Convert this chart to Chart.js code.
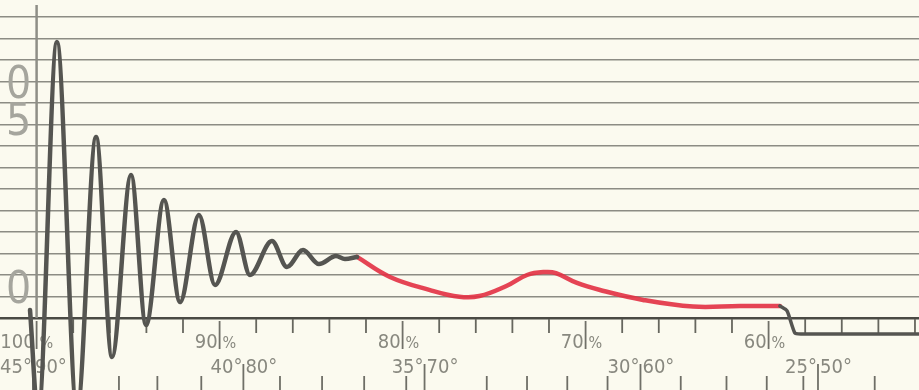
<!DOCTYPE html>
<html>
<head>
<meta charset="utf-8">
<script src="https://cdn.jsdelivr.net/npm/chart.js@4.4.1/dist/chart.umd.min.js"></script>
<style>
  html, body { margin: 0; padding: 0; background: #fbfaef; }
  #wrap { width: 919px; height: 390px; }
</style>
</head>
<body>
<div id="wrap"><canvas id="rec" width="919" height="390"></canvas></div>
<script>
// recorder strip: x = % scale (reads right to left), y = grid divisions above the base line
const greyX = [100.36, 99.92, 98.89, 97.79, 96.75, 95.88, 94.84, 94.02, 93.04, 92.16, 91.13, 90.25,
               89.10, 88.34, 87.14, 86.32, 85.44, 84.57, 83.64, 83.15, 82.49];
const greyY = [0.37, -4.5, 12.84, -4.3, 8.42, -1.81, 6.65, -0.33, 5.49, 0.74, 4.79, 1.53,
               4.00, 2.00, 3.58, 2.37, 3.16, 2.51, 2.88, 2.74, 2.84];

const redX = [82.49, 80.69, 78.50, 76.9, 75.8, 74.30, 73.20, 72.22, 71.62, 70.47, 69.21, 66.86, 64.13, 61.56, 59.38];
const redY = [2.84, 1.91, 1.30, 0.99, 1.02, 1.50, 2.00, 2.14, 2.09, 1.63, 1.30, 0.84, 0.53, 0.56, 0.56];

const tailX = [59.38, 58.99, 58.56, 58.18, 51.78];
const tailY = [0.56, 0.33, -0.70, -0.74, -0.74];

// scale printed on the paper
const gridRows = [0, 1, 2, 3, 4, 5, 6, 7, 8, 9, 10, 11, 12, 13, 14];
const pctTicks = [98, 96, 94, 92, 88, 86, 84, 82, 78, 76, 74, 72, 68, 66, 64, 62, 58, 56, 54, 52];
const pctLabels = ['100', '90', '80', '70', '60'];
const pctAt = [100, 90, 80, 70, 60];
const degTicks = [95.5, 93.4, 91.0, 86.7, 84.4, 82.1, 79.8, 75.4, 73.2, 71.0, 68.8, 64.8, 62.3, 60.1, 58.1, 54.2];
const degLeft = ['45°', '40°', '35°', '30°', '25°'];
const degRight = ['90°', '80°', '70°', '60°', '50°'];
const degAt = [100.2, 88.7, 78.8, 67.0, 57.3];
const sideLabels = ['0', '5', '0'];
const sideAt = [10.84, 9.12, 1.30];

const toPts = (xs, ys) => xs.map((x, i) => ({ x: x, y: ys[i] }));

const paperFont = '"DejaVu Sans Condensed", "Liberation Sans Narrow", sans-serif';

const paper = {
    id: 'paper',
    beforeDraw(chart) {
        const c = chart.ctx;
        c.save();
        c.fillStyle = '#fbfaef';
        c.fillRect(0, 0, chart.width, chart.height);
        c.restore();
    },
    beforeDatasetsDraw(chart) {
        const c = chart.ctx;
        const xs = chart.scales.x, ys = chart.scales.y;
        const base = ys.getPixelForValue(0);
        c.save();
        c.lineCap = 'butt';

        // left border line of the strip
        const x0 = xs.getPixelForValue(100);
        c.strokeStyle = '#8e8e86';
        c.lineWidth = 2.5;
        c.beginPath(); c.moveTo(x0, 5); c.lineTo(x0, base); c.stroke();

        // big scale figures on the left
        c.fillStyle = '#a5a59d';
        c.font = '44px ' + paperFont;
        c.textAlign = 'left';
        c.textBaseline = 'middle';
        sideLabels.forEach((t, i) => c.fillText(t, 6, ys.getPixelForValue(sideAt[i]) + 2));

        // % ticks
        c.strokeStyle = '#66665e';
        c.lineWidth = 1.8;
        pctTicks.forEach(v => {
            const px = xs.getPixelForValue(v);
            c.beginPath(); c.moveTo(px, base + 1); c.lineTo(px, base + 15); c.stroke();
        });
        c.textBaseline = 'alphabetic';
        pctLabels.forEach((t, i) => {
            const px = xs.getPixelForValue(pctAt[i]);
            c.strokeStyle = '#707068';
            c.beginPath(); c.moveTo(px, base + 3); c.lineTo(px, base + 31); c.stroke();
            c.fillStyle = '#88887f';
            c.font = '20px ' + paperFont;
            c.textAlign = 'right';
            c.fillText(t, px - 2, base + 30);
            c.textAlign = 'left';
            c.font = '16px ' + paperFont;
            c.fillText('%', px + 3, base + 30);
        });

        // temperature ticks
        c.strokeStyle = '#6e6e66';
        degTicks.forEach(v => {
            const px = xs.getPixelForValue(v);
            c.beginPath(); c.moveTo(px, base + 58); c.lineTo(px, base + 74); c.stroke();
        });
        c.font = '20px ' + paperFont;
        degAt.forEach((v, i) => {
            const px = xs.getPixelForValue(v);
            c.strokeStyle = '#707068';
            c.beginPath(); c.moveTo(px, base + 46); c.lineTo(px, base + 74); c.stroke();
            c.fillStyle = '#88887f';
            c.textAlign = 'right';
            c.fillText(degLeft[i], px - 1, base + 55);
            c.textAlign = 'left';
            c.fillText(degRight[i], px + 2, base + 55);
        });
        c.restore();
    }
};

const traceStyle = {
    pointRadius: 0,
    borderWidth: 4.5,
    borderCapStyle: 'round',
    borderJoinStyle: 'round',
    fill: false
};

new Chart(document.getElementById('rec'), {
    type: 'line',
    data: {
        datasets: [
            Object.assign({ data: toPts(greyX, greyY), borderColor: '#555551', cubicInterpolationMode: 'monotone' }, traceStyle),
            Object.assign({ data: toPts(tailX, tailY), borderColor: '#555551', tension: 0.2 }, traceStyle, { borderWidth: 3.5 }),
            Object.assign({ data: toPts(redX, redY), borderColor: 'rgba(226, 48, 66, 0.9)', tension: 0.4 }, traceStyle)
        ]
    },
    options: {
        responsive: false,
        animation: false,
        devicePixelRatio: 1,
        layout: { padding: 0 },
        plugins: { legend: { display: false }, tooltip: { enabled: false } },
        scales: {
            x: {
                type: 'linear',
                reverse: true,
                min: 51.78,
                max: 102.0,
                display: false
            },
            y: {
                type: 'linear',
                min: -3.349,
                max: 14.79,
                afterBuildTicks: (s) => { s.ticks = gridRows.map(v => ({ value: v })); },
                ticks: { display: false },
                border: { display: false },
                grid: {
                    drawTicks: false,
                    color: (ctx) => ctx.tick && ctx.tick.value === 0 ? '#4a4a44' : '#8c8c84',
                    lineWidth: (ctx) => ctx.tick && ctx.tick.value === 0 ? 2.5 : 1.4
                }
            }
        }
    },
    plugins: [paper]
});
</script>
</body>
</html>
